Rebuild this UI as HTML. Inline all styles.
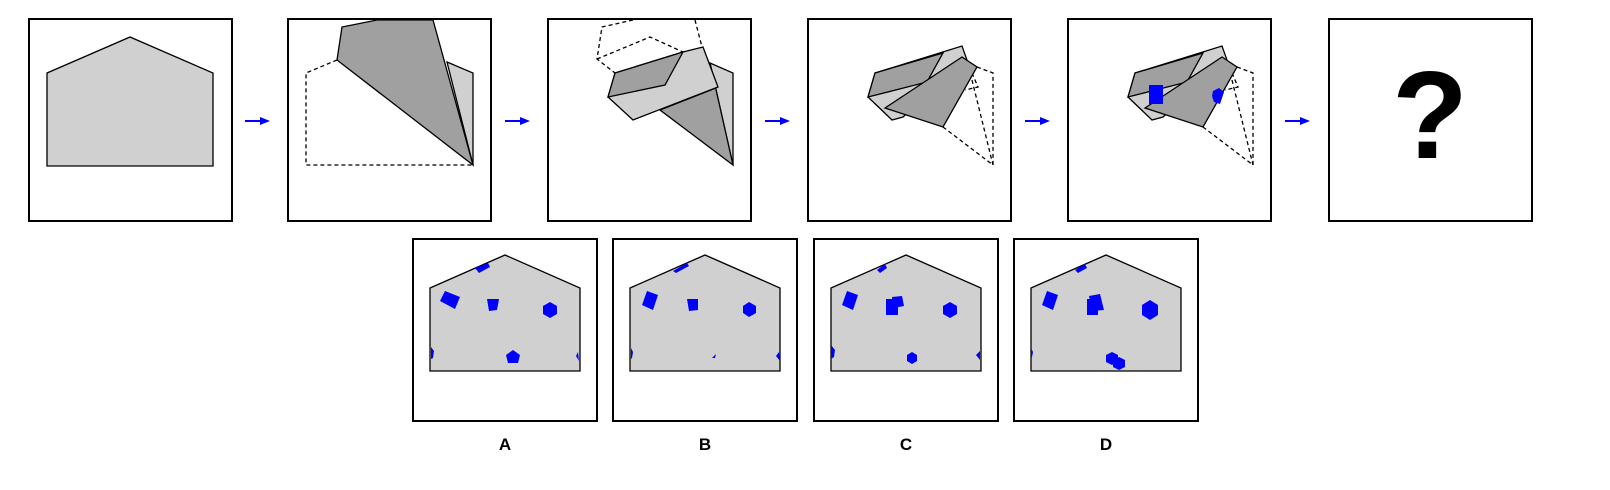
<!DOCTYPE html>
<html><head><meta charset="utf-8"><style>
html,body{margin:0;padding:0;background:#fff;width:1610px;height:490px;overflow:hidden}
svg{display:block}
text{font-family:"Liberation Sans",sans-serif;font-weight:bold}
</style></head><body>
<svg width="1610" height="490" viewBox="0 0 1610 490">
<defs>
<g id="arrow"><line x1="0" y1="0" x2="17" y2="0" stroke="#0000ff" stroke-width="2"/><polygon points="15,-4 25,0 15,4" fill="#0000ff"/></g>
</defs>
<g stroke="#000" stroke-width="2" fill="none">
<rect x="29" y="19" width="203" height="202"/>
<rect x="288" y="19" width="203" height="202"/>
<rect x="548" y="19" width="203" height="202"/>
<rect x="808" y="19" width="203" height="202"/>
<rect x="1068" y="19" width="203" height="202"/>
<rect x="1329" y="19" width="203" height="202"/>
</g>
<g>
<use href="#arrow" x="245" y="121"/><use href="#arrow" x="505" y="121"/><use href="#arrow" x="765" y="121"/>
<use href="#arrow" x="1025" y="121"/><use href="#arrow" x="1285" y="121"/>
</g>
<!-- panel 1 -->
<polygon points="47,73 130,37 213,73 213,166 47,166" fill="#d0d0d0" stroke="#000" stroke-width="1.3"/>
<!-- panel 2 -->
<g stroke="#000" stroke-width="1.3">
<polyline points="337,60 306,73 306,165 473,165" fill="none" stroke-dasharray="4,3"/>
<polygon points="447,62 473,73 473,165" fill="#d0d0d0"/>
<polygon points="337,60 342,27 377,20 433,20 473,165" fill="#a0a0a0"/>
</g>
<!-- panel 3 -->
<g stroke="#000" stroke-width="1.3">
<g fill="none" stroke-dasharray="4,3">
<polyline points="633,20 602,27 597,59 615,73"/>
<polyline points="597,59 650,37 683,52"/>
<polyline points="695,20 702,47"/>
</g>
<polygon points="710,63 733,73 733,165" fill="#d0d0d0"/>
<polygon points="660,110 716,88 710,63 733,165" fill="#a0a0a0"/>
<polygon points="608,97 633,120 718,87 703,47 683,52 615,73" fill="#d0d0d0"/>
<polygon points="615,73 683,52 665,85 608,97" fill="#a0a0a0"/>
</g>
<!-- panel 4 and 5 -->
<g id="p4" stroke="#000" stroke-width="1.3">
<g fill="none" stroke-dasharray="4,3">
<polyline points="977,67 993,73 993,165 943,127"/>
<polyline points="972,73 978,87 965,90"/>
<line x1="972" y1="80" x2="993" y2="165"/>
</g>
<polygon points="868,97 875,73 962,46 967,60 903,117 892,120" fill="#d0d0d0"/>
<polygon points="875,73 943,53 927,82 868,97" fill="#a0a0a0"/>
<polygon points="885,108 962,57 977,67 943,127" fill="#a0a0a0"/>
</g>
<use href="#p4" x="260" y="0"/>
<rect x="1149" y="85" width="14" height="19" fill="#0000ff"/>
<polygon points="1213,91 1219,88 1224,92 1220,104 1214,102 1212,96" fill="#0000ff"/>
<text x="1430" y="158" font-size="124" text-anchor="middle">?</text>
<!-- options -->
<g stroke="#000" stroke-width="2" fill="none">
<rect x="413" y="239" width="184" height="182"/>
<rect x="613" y="239" width="184" height="182"/>
<rect x="814" y="239" width="184" height="182"/>
<rect x="1014" y="239" width="184" height="182"/>
</g>
<g stroke="#000" stroke-width="1.3" fill="#d0d0d0">
<polygon points="430,288 505,255 580,288 580,371 430,371"/>
<polygon points="630,288 705,255 780,288 780,371 630,371"/>
<polygon points="831,288 906,255 981,288 981,371 831,371"/>
<polygon points="1031,288 1106,255 1181,288 1181,371 1031,371"/>
</g>
<g fill="#0000ff">
<polygon points="475,268 488,263 490,267 479,273"/>
<polygon points="440,301 445,291 460,297 455,309"/>
<polygon points="487,299 499,299 497,310 489,311"/>
<polygon points="550,302 557,306 557,314 550,318 543,314 543,306"/>
<polygon points="431,347 434,351 433,358 431,359"/>
<polygon points="513,350 520,355 518,363 508,363 506,355"/>
<polygon points="578,352 579,361 576,356"/>
</g>
<g fill="#0000ff">
<polygon points="673,271 687,263 689,266 676,273"/>
<polygon points="642,305 647,291 658,295 653,310"/>
<polygon points="687,299 698,299 698,310 689,311"/>
<polygon points="749,302 756,306 756,313 749,317 743,313 743,306"/>
<polygon points="631,348 633,352 632,358 631,359"/>
<polygon points="712,358 716,354 715,358"/>
<polygon points="779,352 780,361 776,356"/>
</g>
<g fill="#0000ff">
<polygon points="877,270 885,264 887,268 880,273"/>
<polygon points="842,305 847,291 858,295 853,310"/>
<rect x="886" y="299" width="12" height="16"/>
<polygon points="892,297 902,296 904,306 893,308"/>
<polygon points="950,302 957,306 957,314 950,318 943,314 943,306"/>
<polygon points="912,352 917,355 917,361 912,364 907,361 907,355"/>
<polygon points="831,345 835,350 834,357 831,359"/>
<polygon points="980,351 980,360 976,355"/>
</g>
<g fill="#0000ff">
<polygon points="1075,270 1085,264 1087,268 1078,273"/>
<polygon points="1042,305 1047,291 1058,295 1053,310"/>
<rect x="1087" y="299" width="11" height="16"/>
<polygon points="1089,296 1100,294 1104,310 1092,311"/>
<polygon points="1150,300 1158,305 1158,315 1150,320 1142,315 1142,305"/>
<polygon points="1112,352 1118,355 1118,362 1112,365 1106,362 1106,355"/>
<polygon points="1119,357 1125,360 1125,367 1119,370 1113,367 1113,360"/>
<polygon points="1031,348 1033,352 1032,357 1031,358"/>
</g>
<g font-size="17" text-anchor="middle" fill="#000">
<text x="505" y="450">A</text>
<text x="705" y="450">B</text>
<text x="906" y="450">C</text>
<text x="1106" y="450">D</text>
</g>
</svg>
</body></html>
